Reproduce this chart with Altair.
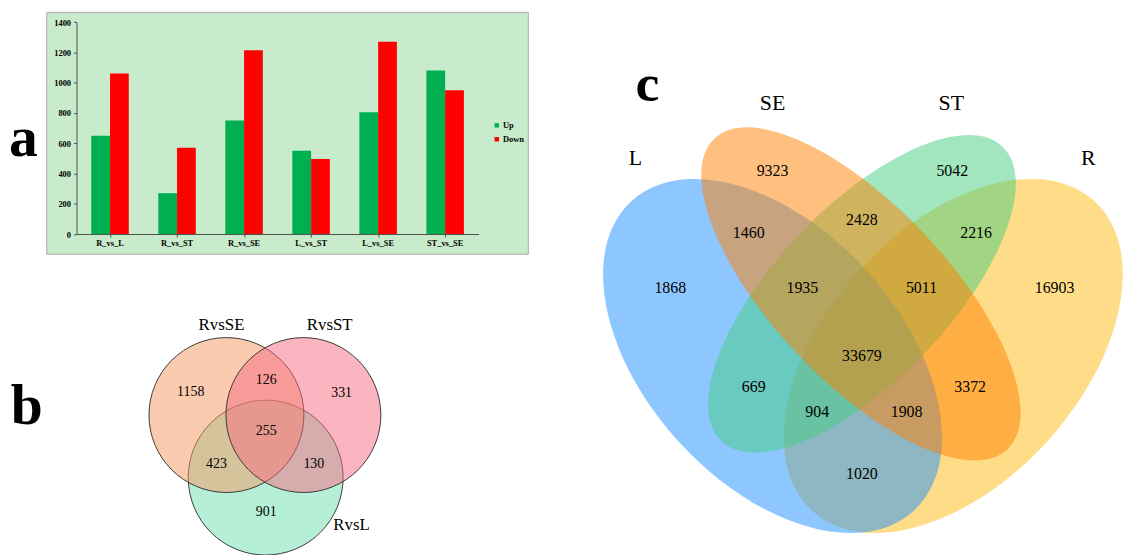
import altair as alt
import pandas as pd

SERIF = "Liberation Serif"

# ---------------- data: panel a (bar chart) ----------------
cats = ["R_vs_L", "R_vs_ST", "R_vs_SE", "L_vs_ST", "L_vs_SE", "ST_vs_SE"]
up_vals = [650, 270, 750, 550, 805, 1080]
down_vals = [1060, 570, 1215, 495, 1270, 950]
series = ["Up", "Down"]
series_colors = ["#00B050", "#FF0000"]
y_ticks = [0, 200, 400, 600, 800, 1000, 1200, 1400]

# ---------------- data: panel b (3-set Venn) ----------------
b_sets = ["RvsSE", "RvsST", "RvsL"]
b_counts = ["1158", "126", "331", "255", "423", "130", "901"]

# ---------------- data: panel c (4-set Venn) ----------------
c_sets = ["L", "SE", "ST", "R"]
c_counts = ["9323", "5042", "2428", "1460", "2216", "1868", "1935", "5011",
            "16903", "33679", "669", "3372", "904", "1908", "1020"]

panel_letters = ["a", "b", "c"]

# ---------------- layout (page pixel coordinates) ----------------
b_circle_x = [228, 305.5, 267.5]
b_circle_y = [416, 416, 479]
b_circle_d = [156, 156, 156]
b_circle_col = ["#F5975F", "#F76B81", "#6BDFAF"]
b_draw_order = [2, 0, 1]  # RvsL at bottom, then RvsSE, then RvsST

b_set_x = [223, 332, 354]
b_set_y = [325, 325, 527]
b_count_x = [192, 268, 344, 268, 218, 316, 268]
b_count_y = [393, 381, 394, 432, 465, 465, 514]

# ellipses drawn bottom-to-top: R, L, ST, SE
c_ell_names = ["R", "L", "ST", "SE"]
c_ell_x = [960, 778, 868, 867]
c_ell_y = [356.5, 356.5, 294, 294]
c_ell_a = [211, 211, 205, 215]
c_ell_b = [128, 128, 87, 88]
c_ell_ang = [-47.7, 47.7, -46.3, 46.7]
c_ell_col = ["#FFB90F", "#1E90FF", "#43CD80", "#FF7F00"]

c_set_x = [640, 778, 958, 1096]
c_set_y = [157, 102, 102, 157]
c_count_x = [778, 959, 868, 754, 983, 675, 808, 928, 1062, 868, 759, 977, 823, 913, 868]
c_count_y = [170, 170, 220, 233, 233, 288, 288, 288, 288, 357, 388, 388, 413, 413, 475]

letter_x = [23.5, 27, 652]
letter_y = [155, 425, 100]
letter_size = [58, 58, 54]

W, H = 1131, 547


def ellipse_path(r):
    k = 0.5523
    return (f"M 1 0 C 1 {k*r:.4f} {k:.4f} {r:.4f} 0 {r:.4f} "
            f"C {-k:.4f} {r:.4f} -1 {k*r:.4f} -1 0 "
            f"C -1 {-k*r:.4f} {-k:.4f} {-r:.4f} 0 {-r:.4f} "
            f"C {k:.4f} {-r:.4f} 1 {-k*r:.4f} 1 0 Z")


def lx(field):
    return alt.X(field, type="quantitative",
                 scale=alt.Scale(domain=[8, 8 + W], range=[0, W], nice=False, zero=False),
                 axis=None)


def ly(field):
    return alt.Y(field, type="quantitative",
                 scale=alt.Scale(domain=[8, 8 + H], range=[0, H], nice=False, zero=False),
                 axis=None)


# ---------------- panel a ----------------
bars_df = pd.DataFrame({
    "cat": cats * 2,
    "series": ["Up"] * len(cats) + ["Down"] * len(cats),
    "val": up_vals + down_vals,
})

x_axis_y = 233.7 - 8
x_band = alt.Scale(range=[69, 474], paddingInner=0.44, paddingOuter=0.22)

panel_bg = alt.Chart(pd.DataFrame({"d": [0]})).mark_rect(
    fill="#C8ECCB", stroke="#A8A8A8", strokeWidth=1
).encode(x=alt.value(39), x2=alt.value(524), y=alt.value(2.5), y2=alt.value(246))

bars = alt.Chart(bars_df).mark_bar(opacity=1).encode(
    x=alt.X("cat:N", sort=cats, scale=x_band,
            axis=alt.Axis(title=None, orient="bottom", offset=-(H - x_axis_y), labelAngle=0,
                          ticks=False, tickSize=0, labelPadding=5, labelFont=SERIF,
                          labelFontSize=8.5, labelFontWeight="bold", labelColor="black",
                          domainColor="#505050", grid=False, zindex=2)),
    xOffset=alt.XOffset("series:N", sort=series, scale=alt.Scale(paddingInner=0, paddingOuter=0)),
    y=alt.Y("val:Q", scale=alt.Scale(domain=[0, 1400], range=[x_axis_y, 20.3 - 8], nice=False),
            axis=alt.Axis(title=None, values=y_ticks, format="d", offset=-69, tickSize=3,
                          labelPadding=3, labelFont=SERIF, labelFontSize=8.5,
                          labelFontWeight="bold", labelColor="black", domainColor="#505050",
                          tickColor="#505050", grid=False, zindex=2)),
    color=alt.Color("series:N", sort=series,
                    scale=alt.Scale(domain=series, range=series_colors),
                    legend=alt.Legend(title=None, orient="none", legendX=488, legendY=112,
                                      symbolType="square", symbolSize=20, symbolStrokeWidth=0,
                                      labelFont=SERIF, labelFontSize=8.5, labelFontWeight="bold",
                                      labelColor="black", rowPadding=5, padding=0, labelOffset=2,
                                      zindex=2)),
)

xticks = alt.Chart(pd.DataFrame({"cat": cats})).mark_point(opacity=0).encode(
    x=alt.X("cat:N", sort=cats, scale=x_band,
            axis=alt.Axis(title=None, orient="bottom", offset=-(H - x_axis_y), labels=False,
                          domain=False, ticks=True, tickSize=3, bandPosition=1,
                          tickColor="#505050", grid=False, zindex=2)),
    y=alt.value(0),
)

# ---------------- panel b ----------------
b_df = pd.DataFrame({
    "cx": [b_circle_x[i] for i in b_draw_order],
    "cy": [b_circle_y[i] for i in b_draw_order],
    "sz": [b_circle_d[i] ** 2 for i in b_draw_order],
    "col": [b_circle_col[i] for i in b_draw_order],
})
venn_b = alt.Chart(b_df).mark_point(
    shape="circle", filled=True, opacity=1, fillOpacity=0.5,
    stroke="#3A3A3A", strokeWidth=1, strokeOpacity=1
).encode(x=lx("cx"), y=ly("cy"), size=alt.Size("sz:Q", scale=None),
         fill=alt.Fill("col:N", scale=None))

b_sets_df = pd.DataFrame({"t": b_sets, "x": b_set_x, "y": b_set_y})
b_sets_txt = alt.Chart(b_sets_df).mark_text(
    font=SERIF, fontSize=17, color="black", align="center", baseline="middle"
).encode(x=lx("x"), y=ly("y"), text="t:N")

b_cnt_df = pd.DataFrame({"t": b_counts, "x": b_count_x, "y": b_count_y})
b_cnt_txt = alt.Chart(b_cnt_df).mark_text(
    font=SERIF, fontSize=14, color="black", align="center", baseline="middle"
).encode(x=lx("x"), y=ly("y"), text="t:N")

# ---------------- panel c ----------------
c_df = pd.DataFrame({
    "name": c_ell_names,
    "cx": c_ell_x,
    "cy": c_ell_y,
    "path": [ellipse_path(b / a) for a, b in zip(c_ell_a, c_ell_b)],
    "sz": [(2 * a) ** 2 for a in c_ell_a],
    "ang": c_ell_ang,
    "col": c_ell_col,
})
venn_c = alt.Chart(c_df).mark_point(
    filled=True, opacity=1, fillOpacity=0.5, strokeWidth=0
).encode(x=lx("cx"), y=ly("cy"),
         shape=alt.Shape("path:N", scale=None),
         size=alt.Size("sz:Q", scale=None),
         angle=alt.Angle("ang:Q", scale=None),
         fill=alt.Fill("col:N", scale=None))

c_sets_df = pd.DataFrame({"t": c_sets, "x": c_set_x, "y": c_set_y})
c_sets_txt = alt.Chart(c_sets_df).mark_text(
    font=SERIF, fontSize=22, color="black", align="center", baseline="middle"
).encode(x=lx("x"), y=ly("y"), text="t:N")

c_cnt_df = pd.DataFrame({"t": c_counts, "x": c_count_x, "y": c_count_y})
c_cnt_txt = alt.Chart(c_cnt_df).mark_text(
    font=SERIF, fontSize=16, color="black", align="center", baseline="middle"
).encode(x=lx("x"), y=ly("y"), text="t:N")

# ---------------- panel letters ----------------
let_df = pd.DataFrame({"t": panel_letters, "x": letter_x, "y": letter_y, "s": letter_size})
letters = alt.Chart(let_df).mark_text(
    font=SERIF, fontWeight="bold", color="black", align="center", baseline="alphabetic"
).encode(x=lx("x"), y=ly("y"), text="t:N", size=alt.Size("s:Q", scale=None))

chart = alt.layer(
    panel_bg, bars, xticks,
    venn_b, b_sets_txt, b_cnt_txt,
    venn_c, c_sets_txt, c_cnt_txt,
    letters,
).resolve_scale(
    x="independent", y="independent"
).properties(
    width=W, height=H, autosize=alt.AutoSizeParams(type="none"), padding=0
).configure_view(strokeWidth=0)

chart.save("out.html", embed_options={"renderer": "svg", "actions": False})
